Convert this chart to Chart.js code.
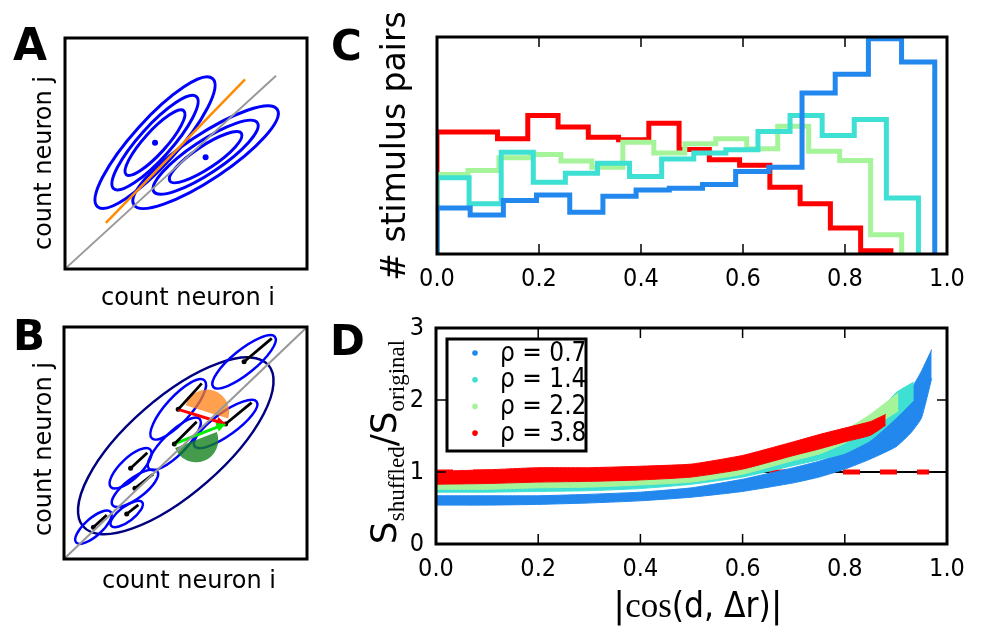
<!DOCTYPE html>
<html>
<head>
<meta charset="utf-8">
<script src="https://cdn.jsdelivr.net/npm/chart.js@4.4.1/dist/chart.umd.min.js"></script>
<style>
  body { margin: 0; background: #fff; width: 982px; height: 634px; position: relative; overflow: hidden; }
  canvas { position: absolute; }
</style>
</head>
<body>
<canvas id="pA" width="330" height="315" style="left:0;top:0"></canvas>
<canvas id="pB" width="330" height="319" style="left:0;top:315px"></canvas>
<canvas id="pC" width="652" height="300" style="left:330px;top:0"></canvas>
<canvas id="pD" width="652" height="334" style="left:330px;top:300px"></canvas>
<script>
const sans = "'DejaVu Sans', sans-serif";
const cond = "'DejaVu Sans Condensed', 'DejaVu Sans', sans-serif";
const serif = "'Liberation Serif', 'DejaVu Serif', serif";

// ---- colours of the four rho series
const rhoLabels = ['0.7', '1.4', '2.2', '3.8'];
const rhoColors = ['#2288ee', '#3ee0d4', '#a6f49a', '#ff0000'];

// ---- panel A: two correlated response distributions (contours)
const aDiag = [[0.007, 0.007], [0.872, 0.837]];
const aOrange = [[0.169, 0.2], [0.744, 0.821]];
const aCenters = [[0.372, 0.547], [0.581, 0.484]];
// contour tips (end of the long axis) for each centre, outer -> inner
const aTips = [
  [[0.610, 0.824], [0.543, 0.746], [0.491, 0.685]],
  [[0.877, 0.691], [0.795, 0.633], [0.729, 0.587]]
];
const aRatio = 0.26;

// ---- panel B: stimulus ensemble
const bDiag = [[0, 0], [1, 1]];
const bBigCenter = [0.460, 0.488];
const bBigTip = [0.841, 0.836];
const bBigRatio = 0.39;
const bCenters = [[0.741, 0.850], [0.470, 0.645], [0.665, 0.582], [0.454, 0.496],
                  [0.274, 0.391], [0.292, 0.305], [0.258, 0.194], [0.121, 0.137]];
const bLineEnds = [[0.855, 0.951], [0.567, 0.757], [0.772, 0.674], [0.546, 0.592],
                   [0.343, 0.458], [0.367, 0.366], [0.306, 0.233], [0.176, 0.190]];
const bTips = [[0.868, 0.958], [0.578, 0.770], [0.793, 0.678], [0.558, 0.604],
               [0.355, 0.472], [0.384, 0.378], [0.322, 0.245], [0.192, 0.203]];
const bRatios = [0.3, 0.32, 0.3, 0.32, 0.38, 0.36, 0.38, 0.38];
const bRedArrow = [[0.470, 0.645], [0.665, 0.582]];
const bGreenArrow = [[0.454, 0.496], [0.665, 0.582]];
const bOrangeDisc = [0.588, 0.634];
const bGreenDisc = [0.543, 0.513];
const bDiscRadius = 0.092;

// ---- panel C: histograms (15 bins from 0 to the largest value)
const histMax = [0.976, 0.944, 0.911, 0.89];
const hist07 = [21.2, 18.0, 24.6, 27.2, 19.2, 26.6, 29.5, 30.3, 32.0, 38.0, 40.0, 74.2, 82.8, 99.2, 88.5];
const hist14 = [35.1, 23.1, 46.9, 33.1, 37.2, 41.8, 35.7, 43.8, 46.6, 48.0, 56.5, 63.8, 54.6, 62.0, 25.8];
const hist22 = [36.6, 38.5, 44.3, 45.8, 42.8, 40.0, 51.5, 46.5, 50.8, 53.1, 48.5, 58.9, 47.4, 43.1, 8.9];
const hist38 = [56.2, 56.2, 53.1, 63.8, 58.5, 53.8, 52.6, 60.3, 48.2, 43.4, 40.9, 30.8, 23.1, 12.0, 1.5];

// ---- panel D: extent of each scatter cloud (lower / upper edge) along |cos|
const dX07 = [0, 0.1, 0.2, 0.3, 0.4, 0.5, 0.6, 0.7, 0.75, 0.8, 0.85, 0.9, 0.93, 0.95, 0.97];
const dLo07 = [0.54, 0.54, 0.55, 0.57, 0.60, 0.65, 0.73, 0.85, 0.93, 1.04, 1.18, 1.35, 1.55, 1.75, 2.3];
const dHi07 = [0.67, 0.67, 0.67, 0.69, 0.72, 0.78, 0.90, 1.06, 1.15, 1.27, 1.46, 1.85, 2.15, 2.4, 2.7];
const dX14 = [0, 0.1, 0.2, 0.3, 0.4, 0.5, 0.6, 0.7, 0.75, 0.8, 0.85, 0.9, 0.935];
const dLo14 = [0.72, 0.72, 0.73, 0.74, 0.77, 0.83, 0.93, 1.09, 1.17, 1.26, 1.44, 1.75, 2.0];
const dHi14 = [0.82, 0.81, 0.83, 0.85, 0.88, 0.93, 1.04, 1.23, 1.33, 1.46, 1.70, 2.1, 2.25];
const dX22 = [0, 0.1, 0.2, 0.3, 0.4, 0.5, 0.6, 0.7, 0.75, 0.8, 0.85, 0.905];
const dLo22 = [0.76, 0.76, 0.78, 0.79, 0.82, 0.86, 0.97, 1.16, 1.25, 1.40, 1.60, 1.85];
const dHi22 = [0.87, 0.87, 0.88, 0.90, 0.94, 0.98, 1.11, 1.32, 1.44, 1.58, 1.80, 2.1];
const dX38 = [0, 0.1, 0.2, 0.3, 0.4, 0.5, 0.6, 0.7, 0.75, 0.8, 0.85, 0.88];
const dLo38 = [0.83, 0.84, 0.86, 0.87, 0.89, 0.93, 1.04, 1.23, 1.32, 1.42, 1.51, 1.65];
const dHi38 = [1.01, 1.03, 1.06, 1.06, 1.08, 1.11, 1.23, 1.42, 1.52, 1.61, 1.70, 1.80];
const refLine = [[0, 1], [1, 1]];
const refDash = [[0, 1], [0.965, 1]];

const pts = arr => arr.map(p => ({x: p[0], y: p[1]}));

// frame + inward ticks
const frame = {
  id: 'frame',
  afterDatasetsDraw(chart, args, o) {
    const {ctx, chartArea: a} = chart;
    ctx.save();
    ctx.strokeStyle = '#000';
    ctx.lineWidth = 1.5;
    (o.axes || []).forEach(id => {
      const s = chart.scales[id];
      s.ticks.forEach(t => {
        if (t.value <= s.min || t.value >= s.max) return;
        const p = s.getPixelForValue(t.value);
        ctx.beginPath();
        if (id === 'x') {
          ctx.moveTo(p, a.bottom); ctx.lineTo(p, a.bottom - 10);
          ctx.moveTo(p, a.top); ctx.lineTo(p, a.top + 10);
        } else {
          ctx.moveTo(a.left, p); ctx.lineTo(a.left + 10, p);
          ctx.moveTo(a.right, p); ctx.lineTo(a.right - 10, p);
        }
        ctx.stroke();
      });
    });
    ctx.lineWidth = 3;
    ctx.strokeRect(a.left, a.top, a.right - a.left, a.bottom - a.top);
    ctx.restore();
  }
};

// free text (panel letters, axis titles), with mixed fonts
const texts = {
  id: 'texts',
  afterDraw(chart, args, o) {
    const ctx = chart.ctx;
    (o.items || []).forEach(it => {
      ctx.save();
      ctx.fillStyle = '#000';
      ctx.textBaseline = 'alphabetic';
      ctx.textAlign = 'left';
      let w = 0;
      it.parts.forEach(p => { ctx.font = p[1]; w += ctx.measureText(p[0]).width; });
      ctx.translate(it.x, it.y);
      if (it.rot) ctx.rotate(it.rot * Math.PI / 180);
      let x = it.align === 'left' ? 0 : -w / 2;
      it.parts.forEach(p => {
        ctx.font = p[1];
        ctx.fillText(p[0], x, p[2] || 0);
        x += ctx.measureText(p[0]).width;
      });
      ctx.restore();
    });
  }
};

// ellipses and half discs placed through the scales
const shapes = {
  id: 'shapes',
  beforeDatasetsDraw(chart, args, o) {
    const {ctx, scales: {x, y}} = chart;
    const px = p => [x.getPixelForValue(p[0]), y.getPixelForValue(p[1])];
    ctx.save();
    ctx.beginPath();
    ctx.rect(chart.chartArea.left, chart.chartArea.top, chart.chartArea.width, chart.chartArea.height);
    ctx.clip();
    (o.ellipses || []).forEach(e => {
      const [cx, cy] = px(e.c), [tx, ty] = px(e.tip);
      const a = Math.hypot(tx - cx, ty - cy);
      ctx.beginPath();
      ctx.ellipse(cx, cy, a, a * e.ratio, Math.atan2(ty - cy, tx - cx), 0, 2 * Math.PI);
      ctx.strokeStyle = e.color;
      ctx.lineWidth = e.width;
      ctx.stroke();
    });
    (o.discs || []).forEach(d => {
      const [cx, cy] = px(d.c);
      const r = x.getPixelForValue(d.r) - x.getPixelForValue(0);
      const [p0x, p0y] = px(d.along[0]), [p1x, p1y] = px(d.along[1]);
      const ang = Math.atan2(p1y - p0y, p1x - p0x);
      const start = d.side === 'up' ? ang + Math.PI : ang;
      ctx.beginPath();
      ctx.moveTo(cx, cy);
      ctx.arc(cx, cy, r, start, start + Math.PI);
      ctx.closePath();
      ctx.fillStyle = d.color;
      ctx.fill();
    });
    ctx.restore();
  },
  afterDatasetsDraw(chart) {
    const ctx = chart.ctx;
    chart.data.datasets.forEach((ds, i) => {
      if (!ds.arrow) return;
      const pts = chart.getDatasetMeta(i).data;
      const a = pts[pts.length - 2], b = pts[pts.length - 1];
      const ang = Math.atan2(b.y - a.y, b.x - a.x);
      ctx.save();
      ctx.translate(b.x, b.y);
      ctx.rotate(ang);
      ctx.beginPath();
      ctx.moveTo(0, 0); ctx.lineTo(-9, -4.5); ctx.lineTo(-9, 4.5); ctx.closePath();
      ctx.fillStyle = ds.borderColor;
      ctx.fill();
      ctx.restore();
    });
  }
};

// legend box drawn inside panel D
const legendBox = {
  id: 'legendBox',
  afterDraw(chart, args, o) {
    const ctx = chart.ctx;
    ctx.save();
    ctx.fillStyle = '#fff';
    ctx.fillRect(o.left, o.top, o.right - o.left, o.bottom - o.top);
    ctx.lineWidth = 3;
    ctx.strokeStyle = '#000';
    ctx.strokeRect(o.left, o.top, o.right - o.left, o.bottom - o.top);
    const items = chart.data.datasets.filter(d => d.legendLabel);
    items.forEach((d, i) => {
      const yy = o.rowTop + i * o.rowGap;
      ctx.beginPath();
      ctx.arc(o.dotX, yy, 2.8, 0, 2 * Math.PI);
      ctx.fillStyle = d.borderColor;
      ctx.fill();
      ctx.fillStyle = '#000';
      ctx.font = o.font;
      ctx.textBaseline = 'middle';
      ctx.fillText(d.legendLabel, o.textX, yy + 1);
    });
    ctx.restore();
  }
};

const baseOpts = {
  responsive: false,
  animation: false,
  events: []
};

// ---------- panel A
new Chart(document.getElementById('pA'), {
  type: 'scatter',
  data: {
    datasets: [
      {data: pts(aDiag), showLine: true, borderColor: '#999999', borderWidth: 2, pointRadius: 0},
      {data: pts(aOrange), showLine: true, borderColor: '#ff8c00', borderWidth: 2.5, pointRadius: 0},
      {data: pts(aCenters), pointRadius: 3, backgroundColor: '#0000ff', borderWidth: 0}
    ]
  },
  options: {
    ...baseOpts,
    layout: {padding: {left: 65, right: 23, top: 38, bottom: 46}},
    scales: {x: {display: false, min: 0, max: 1}, y: {display: false, min: 0, max: 1}},
    plugins: {
      legend: {display: false}, tooltip: {enabled: false},
      shapes: {ellipses: aCenters.flatMap((c, i) => aTips[i].map(t => ({c, tip: t, ratio: aRatio, color: '#0000ff', width: 3})))},
      frame: {axes: []},
      texts: {items: [
        {parts: [['A', 'bold 44px ' + sans]], x: 13, y: 60, align: 'left'},
        {parts: [['count neuron j', '24px ' + sans]], x: 51, y: 163, rot: -90},
        {parts: [['count neuron i', '24px ' + sans]], x: 188, y: 305}
      ]}
    }
  },
  plugins: [shapes, frame, texts]
});

// ---------- panel B
const bDatasets = [
  {data: pts(bDiag), showLine: true, borderColor: '#999999', borderWidth: 2, pointRadius: 0}
];
bCenters.forEach((c, i) => {
  bDatasets.push({data: pts([c, bLineEnds[i]]), showLine: true, borderColor: '#000', borderWidth: 2.8, pointRadius: 0});
});
bDatasets.push({data: pts(bRedArrow), showLine: true, borderColor: '#ff0000', borderWidth: 3, pointRadius: 0, arrow: true});
bDatasets.push({data: pts(bGreenArrow), showLine: true, borderColor: '#00ee00', borderWidth: 3, pointRadius: 0, arrow: true});
bDatasets.push({data: pts(bCenters), pointRadius: 2.5, backgroundColor: '#000', borderWidth: 0});

new Chart(document.getElementById('pB'), {
  type: 'scatter',
  data: {datasets: bDatasets},
  options: {
    ...baseOpts,
    layout: {padding: {left: 64, right: 23, top: 12, bottom: 75}},
    scales: {x: {display: false, min: 0, max: 1}, y: {display: false, min: 0, max: 1}},
    plugins: {
      legend: {display: false}, tooltip: {enabled: false},
      shapes: {
        ellipses: [{c: bBigCenter, tip: bBigTip, ratio: bBigRatio, color: '#000080', width: 2.5}]
          .concat(bCenters.map((c, i) => ({c, tip: bTips[i], ratio: bRatios[i], color: '#0000ff', width: 2.5}))),
        discs: [
          {c: bOrangeDisc, r: bDiscRadius, along: bRedArrow, side: 'up', color: 'rgba(255,128,20,0.75)'},
          {c: bGreenDisc, r: bDiscRadius, along: bGreenArrow, side: 'down', color: 'rgba(20,130,30,0.8)'}
        ]
      },
      frame: {axes: []},
      texts: {items: [
        {parts: [['B', 'bold 42px ' + sans]], x: 13, y: 35, align: 'left'},
        {parts: [['count neuron j', '24px ' + sans]], x: 51, y: 134, rot: -90},
        {parts: [['count neuron i', '24px ' + sans]], x: 189, y: 273}
      ]}
    }
  },
  plugins: [shapes, frame, texts]
});

// ---------- panel C
const histLine = (counts, max) => {
  const w = max / counts.length;
  const out = [{x: 0, y: 0}];
  counts.forEach((c, i) => out.push({x: i * w, y: c}));
  out.push({x: max, y: 0});
  return out;
};
const hists = [hist07, hist14, hist22, hist38];

new Chart(document.getElementById('pC'), {
  type: 'line',
  data: {
    datasets: hists.map((h, i) => ({
      data: histLine(h, histMax[i]),
      stepped: true,
      borderColor: rhoColors[i],
      borderWidth: 5,
      pointRadius: 0,
      fill: false,
      order: i
    }))
  },
  options: {
    ...baseOpts,
    layout: {padding: {left: 107, right: 35, top: 37, bottom: 0}},
    scales: {
      x: {
        type: 'linear', min: 0, max: 1,
        grid: {display: false, drawTicks: false}, border: {display: false},
        ticks: {stepSize: 0.2, callback: v => v.toFixed(1), color: '#000', padding: 10,
                font: {family: cond, size: 25}, maxRotation: 0, autoSkip: false},
        afterFit: s => { s.height = 46; }
      },
      y: {display: false, min: 0, max: 100}
    },
    plugins: {
      legend: {display: false}, tooltip: {enabled: false},
      frame: {axes: ['x']},
      texts: {items: [
        {parts: [['C', 'bold 42px ' + sans]], x: 1, y: 60, align: 'left'},
        {parts: [['# stimulus pairs', '33px ' + sans]], x: 75, y: 146, rot: -90}
      ]}
    }
  },
  plugins: [frame, texts]
});

// ---------- panel D
const bandX = [dX07, dX14, dX22, dX38];
const bandLo = [dLo07, dLo14, dLo22, dLo38];
const bandHi = [dHi07, dHi14, dHi22, dHi38];
const dDatasets = [
  {data: pts(refLine), borderColor: '#000', borderWidth: 2, pointRadius: 0, order: 20},
  {data: pts(refDash), borderColor: '#ff0000', borderWidth: 5, borderDash: [17, 20], pointRadius: 0, order: 19}
];
bandX.forEach((xs, i) => {
  dDatasets.push({data: xs.map((x, k) => ({x, y: bandLo[i][k]})), borderColor: rhoColors[i], borderWidth: 1,
                  pointRadius: 0, fill: false, tension: 0.15, order: 18 - 2 * i});
  dDatasets.push({data: xs.map((x, k) => ({x, y: bandHi[i][k]})), borderColor: rhoColors[i], borderWidth: 1,
                  backgroundColor: rhoColors[i], pointRadius: 0, fill: '-1', tension: 0.15, order: 17 - 2 * i,
                  legendLabel: '\u03c1 = ' + rhoLabels[i]});
});

new Chart(document.getElementById('pD'), {
  type: 'line',
  data: {datasets: dDatasets},
  options: {
    ...baseOpts,
    layout: {padding: {left: 0, right: 35, top: 28, bottom: 0}},
    scales: {
      x: {
        type: 'linear', min: 0, max: 1,
        grid: {display: false, drawTicks: false}, border: {display: false},
        ticks: {stepSize: 0.2, callback: v => v.toFixed(1), color: '#000', padding: 10,
                font: {family: cond, size: 25}, maxRotation: 0, autoSkip: false},
        afterFit: s => { s.height = 90; }
      },
      y: {
        type: 'linear', min: 0, max: 3,
        grid: {display: false, drawTicks: false}, border: {display: false},
        ticks: {stepSize: 1, color: '#000', padding: 12, font: {family: cond, size: 25}},
        afterFit: s => { s.width = 106; }
      }
    },
    plugins: {
      legend: {display: false}, tooltip: {enabled: false},
      frame: {axes: ['x', 'y']},
      legendBox: {left: 117, top: 39, right: 256, bottom: 151, rowTop: 53, rowGap: 26.7,
                  dotX: 145, textX: 170, font: '26px ' + cond},
      texts: {items: [
        {parts: [['D', 'bold 42px ' + sans]], x: 0, y: 55, align: 'left'},
        {parts: [['S', '36px ' + sans], ['shuffled', '23px ' + serif, 8], ['/', '36px ' + sans],
                 ['S', '36px ' + sans], ['original', '23px ' + serif, 8]], x: 66, y: 142, rot: -90},
        {parts: [['|', '35px ' + sans], ['cos', '35px ' + serif], ['(d, \u0394r)', '35px ' + cond], ['|', '35px ' + sans]],
         x: 368, y: 317}
      ]}
    }
  },
  plugins: [frame, legendBox, texts]
});
</script>
</body>
</html>
